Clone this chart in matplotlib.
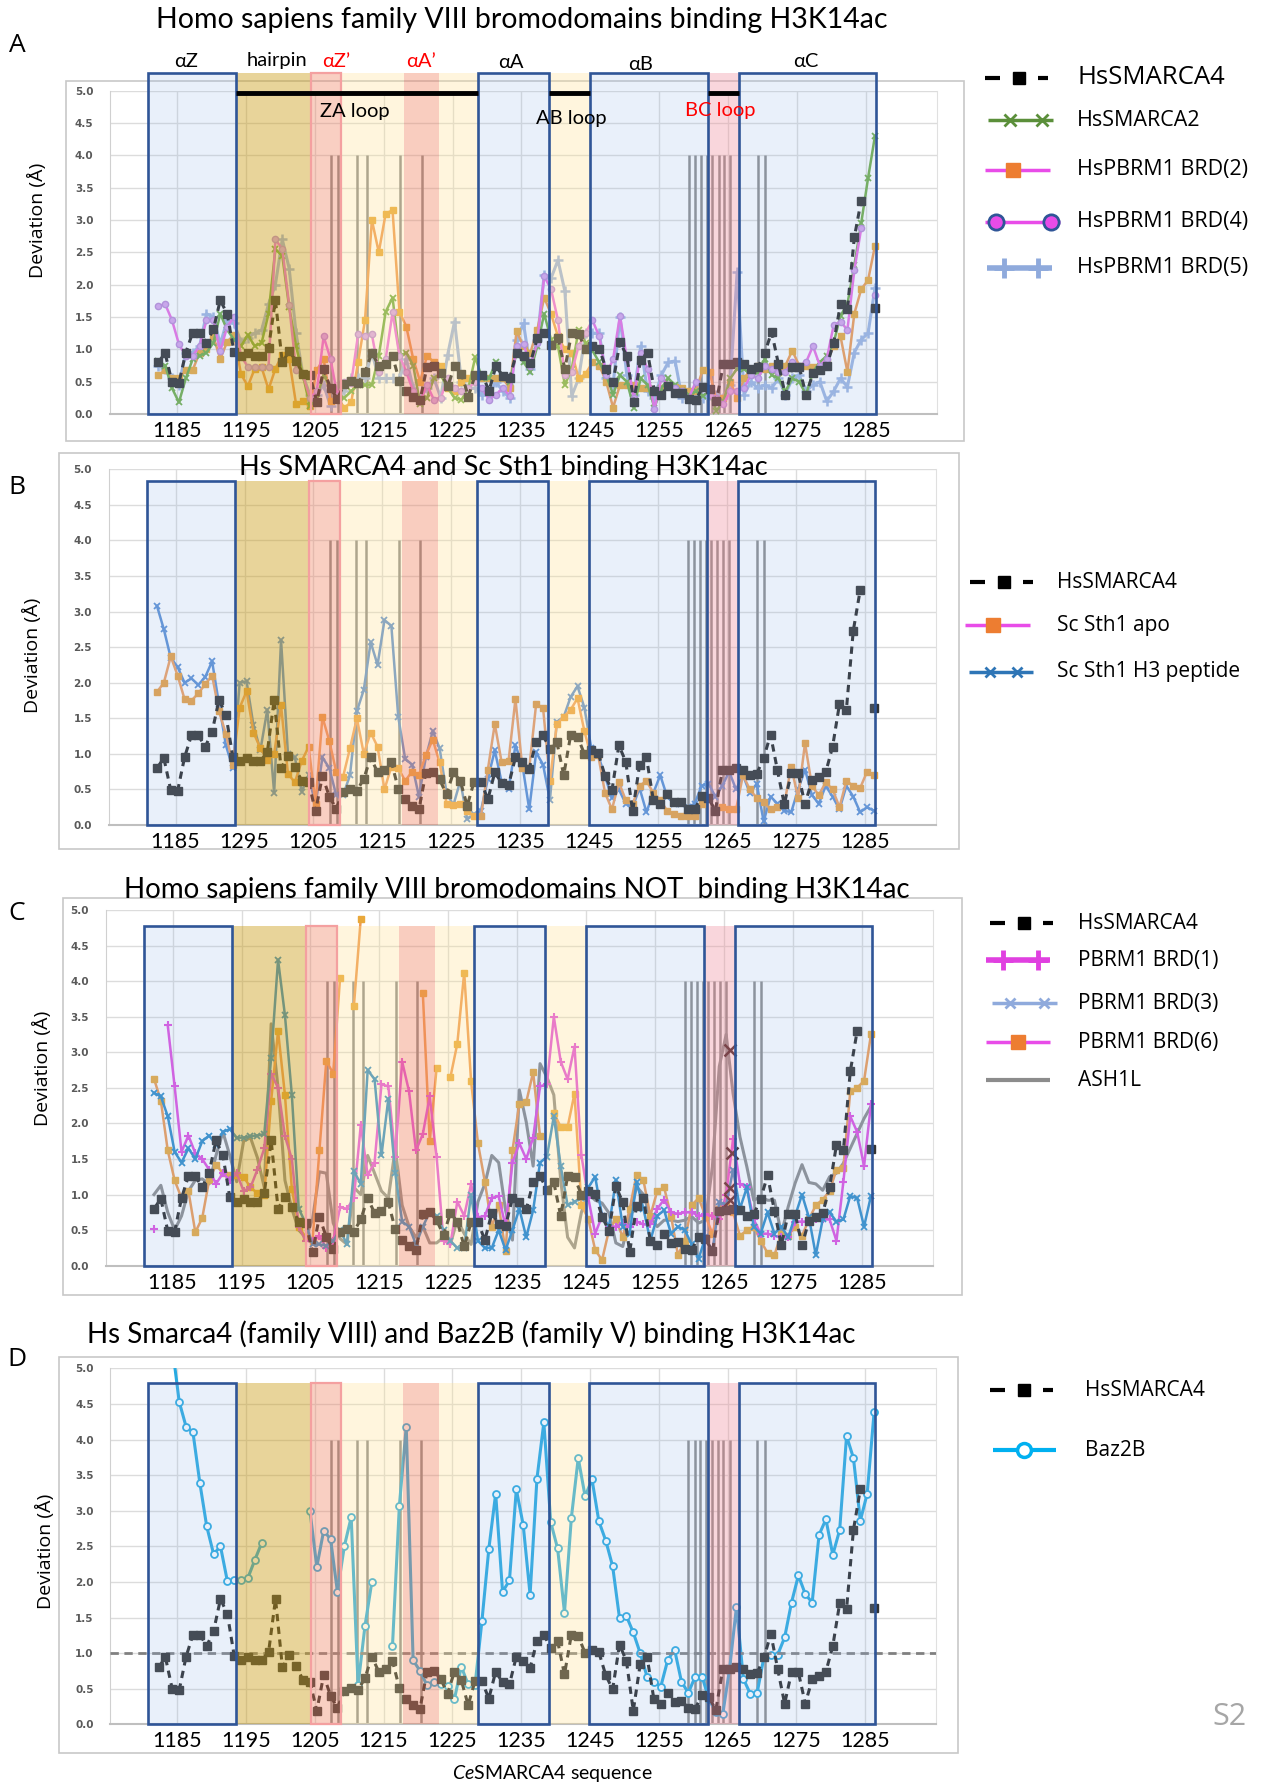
import numpy as np
import matplotlib
matplotlib.use('Agg')
import matplotlib.pyplot as plt
from matplotlib.patches import Rectangle
from matplotlib.lines import Line2D

nan = np.nan
W, H = 1266, 1785

# residue numbers (one point per residue)
residues = np.arange(1182, 1287)

hs_smarca4 = [0.80, 0.94, 0.49, 0.48, 0.95, 1.26, 1.26, 1.10, 1.31, 1.76,
              1.55, 0.96, 0.90, 0.94, 0.90, 0.90, 1.02, 1.76, 0.80, 0.97,
              0.82, 0.62, 0.60, 0.19, 0.69, 0.40, 0.23, 0.47, 0.51, 0.48,
              0.65, 0.95, 0.74, 0.77, 0.89, 0.51, 0.36, 0.27, 0.22, 0.73,
              0.75, 0.64, 0.43, 0.74, 0.62, 0.27, 0.61, 0.61, 0.36, 0.74,
              0.59, 0.56, 0.95, 0.89, 0.79, 1.17, 1.26, 1.07, 1.17, 0.70,
              1.26, 1.24, 1.00, 1.05, 1.01, 0.69, 0.49, 1.12, 0.89, 0.19,
              0.84, 0.95, 0.35, 0.29, 0.44, 0.32, 0.33, 0.23, 0.22, 0.41,
              0.38, 0.20, 0.77, 0.78, 0.80, 0.78, 0.70, 0.72, 0.94, 1.27,
              0.77, 0.29, 0.73, 0.73, 0.29, 0.63, 0.68, 0.74, 1.10, 1.70,
              1.62, 2.73, 3.30, nan, 1.64]

# panel A
hs_smarca2 = [0.82, 0.75, 0.40, 0.18, 0.55, 0.85, 0.90, 0.95, 1.10, 1.55,
              1.30, 1.15, 1.05, 1.22, 1.05, 1.10, 1.55, 2.55, 2.45, 1.65,
              1.05, 0.60, 0.12, 0.25, 0.60, 0.40, 0.25, 0.25, 0.35, 0.45,
              0.45, 0.45, 0.90, 1.58, 1.80, 0.90, 0.95, 0.75, 0.15, 0.25,
              0.55, 0.60, 0.40, 0.25, 0.22, 0.40, 0.88, 0.55, 0.55, 0.80,
              0.55, 0.50, 0.95, 0.80, 0.65, 1.05, 1.55, 1.15, 1.05, 0.45,
              0.70, 1.30, 1.10, 0.98, 0.80, 0.60, 0.30, 0.60, 0.50, 0.10,
              0.55, 0.45, 0.10, 0.40, 0.55, 0.45, 0.35, 0.30, 0.35, 0.28,
              0.35, 0.05, 0.20, 0.55, 0.70, 0.70, 0.60, 0.65, 0.85, 0.60,
              0.55, 0.35, 0.55, 0.50, 0.30, 0.65, 0.80, 0.90, 1.10, 1.52,
              1.70, 2.30, 2.95, 3.65, 4.30]
hs_pbrm1_brd2 = [0.60, 0.68, 0.55, 0.55, 0.68, 0.68, 0.95, 1.00, 1.20, 0.85,
                 1.12, 1.22, 0.62, 0.43, 0.70, 0.72, 0.38, 0.70, 0.92, 0.85,
                 0.15, 0.20, 0.12, 0.68, 0.85, 0.20, 0.25, 0.10, 0.18, 0.80,
                 1.45, 3.00, 2.50, 3.10, 3.15, 1.58, 1.35, 0.85, 0.50, 0.90,
                 0.80, 0.75, 0.40, 0.35, 0.50, 0.55, 0.60, 0.55, 0.55, 0.55,
                 0.55, 0.40, 1.28, 1.05, 0.95, 1.30, 1.80, 1.55, 1.20, 1.00,
                 0.95, 0.55, 0.62, 0.80, 0.75, 0.50, 0.10, 0.45, 0.45, 0.45,
                 0.40, 0.40, 0.35, 0.40, 0.45, 0.42, 0.40, 0.35, 0.35, 0.68,
                 0.65, 0.20, 0.25, 0.50, 0.25, 0.55, 0.70, 0.75, 0.70, 0.75,
                 0.65, 0.75, 0.98, 0.75, 0.75, 0.72, 0.75, 0.80, 1.05, 1.20,
                 0.65, 1.55, 1.93, 2.07, 2.60]
hs_pbrm1_brd4 = [1.67, 1.70, 1.45, 1.08, 0.90, 0.90, 1.05, 1.45, 1.45, 0.97,
                 1.35, 1.50, 0.90, 0.73, 0.72, 0.73, 0.72, 2.70, 2.55, 1.68,
                 0.68, 0.60, 0.25, 0.35, 1.20, 0.85, 0.28, 0.50, 0.48, 1.23,
                 1.20, 1.23, 0.65, 0.85, 1.57, 0.90, 0.65, 0.35, 0.20, 0.45,
                 0.22, 0.25, 0.55, 0.40, 0.35, 0.40, 0.50, 0.40, 0.22, 0.30,
                 0.40, 0.28, 1.05, 1.08, 0.75, 1.10, 2.13, 1.93, 1.45, 0.60,
                 0.65, 1.05, 1.25, 1.45, 1.20, 0.60, 0.85, 1.52, 0.85, 0.25,
                 0.95, 0.70, 0.07, 0.55, 0.45, 0.40, 0.35, 0.25, 0.50, 0.40,
                 0.30, 0.25, 0.15, 0.35, 0.35, 0.40, 0.60, 0.55, 0.75, 0.70,
                 0.65, 0.65, 0.80, 0.75, 0.80, 1.05, 0.75, 0.85, 1.37, 1.43,
                 1.30, 2.22, 2.87, nan, 1.84]
hs_pbrm1_brd5 = [0.75, 0.70, 0.55, 0.45, 0.95, 0.95, 1.05, 1.55, 1.50, 1.08,
                 1.45, 1.40, 1.12, 1.18, 1.25, 1.30, 1.70, 2.00, 2.70, 2.25,
                 1.25, 0.60, 0.30, 0.30, 0.45, 0.12, 0.25, 0.35, 0.55, 0.55,
                 0.55, 0.95, 0.55, 0.55, 0.55, 0.55, 0.85, 0.40, 0.25, 0.40,
                 0.55, 0.25, 0.92, 1.43, 0.50, 0.40, 0.40, 0.30, 0.30, 0.50,
                 0.35, 0.25, 1.15, 1.40, 0.70, 1.15, 2.15, 2.10, 2.38, 1.90,
                 0.28, 0.55, 1.25, 1.25, 1.25, 0.55, 0.45, 1.50, 0.60, 0.30,
                 1.05, 0.35, 0.25, 0.60, 0.80, 0.82, 0.25, 0.28, 0.32, 0.25,
                 0.30, 0.30, 0.25, 0.45, 2.20, 0.30, 0.50, 0.40, 0.45, 0.40,
                 0.55, 0.30, 0.55, 0.60, 0.35, 0.45, 0.50, 0.20, 0.35, 0.55,
                 0.42, 0.95, 1.15, 1.25, 1.95]

# panel B
sc_sth1_apo = [1.87, 2.00, 2.37, 2.10, 1.77, 1.75, 1.85, 1.98, 2.10, 1.60,
               1.28, 0.85, 1.65, 1.88, 1.30, 1.08, 0.92, 1.00, 1.68, 0.72,
               0.60, 0.90, 1.10, 0.30, 1.52, 1.18, 0.75, 0.68, 1.08, 1.50,
               1.00, 1.30, 1.10, 0.50, 0.82, 0.80, 0.62, 0.75, 0.70, 0.98,
               1.20, 0.88, 0.30, 0.28, 0.30, 0.20, 0.12, 0.12, 0.78, 1.42,
               0.88, 0.90, 1.77, 0.80, 0.80, 1.70, 1.65, 0.62, 1.42, 1.52,
               1.62, 1.78, 1.32, 0.95, 0.98, 0.45, 0.22, 0.60, 0.35, 0.30,
               0.55, 0.62, 0.45, 0.35, 0.20, 0.15, 0.13, 0.12, 0.12, 0.30,
               0.38, 0.20, 0.25, 0.22, 0.22, 0.70, 0.50, 0.38, 0.32, 0.22,
               0.25, 0.30, 0.82, 0.38, 1.15, 0.55, 0.42, 0.60, 0.50, 0.25,
               0.62, 0.55, 0.52, 0.75, 0.70]
sc_sth1_h3 = [3.08, 2.75, 2.35, 2.22, 2.00, 2.06, 1.97, 2.08, 2.30, 1.70,
              1.12, 0.80, 2.00, 2.02, 1.40, 1.05, 1.62, 0.45, 2.60, 1.00,
              0.95, 0.47, 0.70, 0.28, 0.95, 0.80, 0.42, 0.42, 0.70, 1.60,
              1.90, 2.57, 2.25, 2.88, 2.80, 1.52, 0.93, 0.85, 0.40, 0.95,
              1.32, 1.08, 0.45, 0.28, 0.62, 0.08, 0.15, 0.20, 0.65, 1.05,
              0.60, 0.50, 1.12, 0.85, 0.22, 1.02, 0.85, 0.35, 1.45, 1.52,
              1.80, 1.95, 1.65, 1.08, 0.98, 0.68, 0.38, 0.50, 0.30, 0.25,
              0.52, 0.18, 0.45, 0.70, 0.40, 0.30, 0.30, 0.25, 0.30, 0.55,
              0.58, 0.40, 0.55, 0.75, 0.50, 0.70, 0.45, 0.58, 0.05, 0.40,
              0.30, 0.20, 0.18, 0.50, 0.78, 0.42, 0.30, 0.55, 0.40, 0.22,
              0.55, 0.40, 0.18, 0.25, 0.20]

# panel C
pbrm1_brd1 = [0.52, nan, 3.38, 2.52, 1.60, 1.83, 1.58, 1.50, 1.35, 1.15,
              1.30, 1.20, 1.30, 1.05, 1.10, 1.35, 1.65, 2.70, 2.50, 1.82,
              1.50, 0.55, 0.35, 0.35, 0.42, 0.25, 0.35, 0.82, 0.80, 0.95,
              1.98, 1.27, 1.45, 2.55, 2.52, 1.53, 2.87, 2.45, 1.62, 1.85,
              2.38, 1.53, 0.35, 0.30, 0.90, 0.70, 1.15, 0.68, 0.70, 0.95,
              0.98, 0.55, 1.45, 1.72, 1.50, 1.80, 2.52, 2.55, 3.50, 2.87,
              2.62, 3.08, 1.55, 0.95, 0.45, 0.70, 0.55, 0.55, 0.60, 0.55,
              0.62, 0.58, 0.58, 0.80, 0.93, 0.75, 0.73, 0.75, 0.75, 0.70,
              0.72, 0.70, 0.65, 1.00, 1.78, 1.15, 1.10, 0.65, 0.45, 0.45,
              0.42, 0.40, 0.40, 0.62, 0.62, 0.62, 0.65, 0.65, 0.65, 0.35,
              1.18, 2.10, 1.88, 1.40, 2.27]
pbrm1_brd3 = [2.43, 2.38, 2.10, 1.60, 1.45, 1.65, 1.50, 1.75, 1.83, 1.70,
              1.88, 1.92, 1.80, 1.80, 1.82, 1.83, 1.85, 2.92, 4.30, 3.52,
              2.40, 0.80, 0.60, 0.30, 0.30, 0.28, 0.35, 0.50, 0.30, 1.33,
              1.15, 2.75, 2.62, 1.55, 2.35, 1.30, 0.62, 0.55, 0.30, 0.55,
              0.75, 0.70, 0.50, 0.35, 0.25, 0.25, 1.00, 0.35, 0.25, 0.25,
              0.50, 0.22, 0.50, 0.80, 0.40, 0.78, 1.45, 1.53, 2.10, 1.40,
              0.85, 0.90, 0.95, 1.10, 1.25, 0.70, 0.55, 1.20, 0.55, 0.45,
              1.18, 0.80, 0.35, 0.70, 0.78, 0.45, 0.55, 0.50, 0.30, 0.10,
              0.40, 0.20, 0.90, 0.85, 1.35, 0.80, 1.10, 0.55, 0.45, 0.75,
              0.45, 0.55, 0.40, 0.70, 1.00, 0.68, 0.15, 0.65, 0.75, 0.62,
              0.65, 0.98, 0.95, 0.55, 0.98]
pbrm1_brd6 = [2.63, 2.32, 1.62, 1.20, 0.95, 1.05, 0.47, 0.67, 1.20, 1.42,
              1.30, 1.28, 1.28, 1.25, 1.10, 1.02, 1.00, 2.32, 3.30, 2.40,
              1.08, 0.55, 0.40, 0.35, 1.62, 2.88, 2.70, 4.05, nan, 3.65,
              4.88, nan, nan, nan, nan, nan, nan, nan, nan, 3.83,
              1.75, 2.78, nan, 2.65, 3.12, 4.12, 2.59, 1.72, 1.18, 0.55,
              0.85, 0.20, 1.62, 2.28, 2.30, 2.72, 1.82, nan, 2.15, 1.95,
              1.95, 2.42, 0.85, 0.66, 0.22, 0.08, 0.50, 0.65, 0.40, 0.80,
              1.28, 1.20, 0.70, 1.05, 1.10, 0.70, 0.15, 0.35, 0.85, 0.95,
              0.70, 0.45, 0.80, 0.85, 0.75, 0.42, 0.50, 0.55, 0.35, 0.18,
              0.15, 0.45, 0.42, 0.55, 0.42, 0.65, 0.85, 0.93, 1.05, 1.35,
              1.38, 2.45, 2.50, 2.60, 3.25]
ash1l = [1.00, 1.13, 0.75, 0.50, 0.70, 1.05, 1.20, 1.22, 1.15, 1.55,
         1.88, 1.55, 1.18, 1.75, 1.80, 1.52, 1.10, 3.40, 2.50, 1.20,
         0.80, 0.50, 0.40, 0.65, 1.32, 1.30, 0.60, 0.38, 0.30, 1.10,
         1.00, 1.55, 1.30, 1.05, 0.95, 1.65, 0.85, 0.55, 0.40, 0.55,
         0.32, 0.32, 0.40, 0.30, 0.65, 0.45, 0.30, 0.90, 1.15, 1.55,
         1.45, 0.78, 0.36, 2.47, 2.02, 1.40, 2.84, 2.65, 2.40, 1.20,
         0.40, 0.25, 0.75, 1.02, 0.92, 0.88, 0.74, 0.32, 0.27, 0.70,
         1.11, 1.00, 0.69, 0.55, 0.64, 0.64, 0.62, 0.64, 0.69, 0.60,
         0.64, 1.39, 2.80, 3.25, 2.42, 1.81, 1.39, 0.92, 0.97, 0.92,
         0.92, 0.45, 0.83, 1.16, 1.42, 1.17, 1.15, 1.06, 1.25, 1.30,
         1.44, 1.65, 1.86, 2.07, 2.24]
# the dark x marks in the BC loop of panel C
c_x_res = [1265.5, 1265.8, 1265.6, 1265.5]
c_x_val = [3.03, 1.58, 1.09, 0.92]

# panel D
baz2b = [nan, nan, 5.30, 4.53, 4.18, 4.10, 3.39, 2.78, 2.39, 2.50,
         2.01, 2.02, 2.02, 2.06, 2.31, 2.55, nan, nan, nan, nan,
         nan, nan, 3.00, 2.21, 2.72, 2.60, 1.86, 2.50, 2.91, 0.55,
         1.38, 2.00, nan, nan, 1.10, 3.07, 4.18, 0.90, 0.75, 0.55,
         0.60, 0.57, 0.54, 0.35, 0.81, 0.56, 0.55, 1.45, 2.46, 3.24,
         1.86, 2.02, 3.30, 2.80, 1.82, 3.45, 4.24, 2.84, 2.47, 1.57,
         2.90, 3.74, 3.20, 3.44, 2.85, 2.58, 2.22, 1.49, 1.52, 1.29,
         1.00, 0.67, 0.60, 0.53, 0.90, 1.05, 0.60, 0.44, 0.67, 0.67,
         0.35, 0.17, 0.14, 0.78, 1.65, 0.64, 0.43, 0.44, 0.95, 0.97,
         0.98, 1.22, 1.71, 2.09, 1.83, 1.71, 2.66, 2.88, 2.38, 2.73,
         4.05, 3.74, 2.86, 3.24, 4.38]
threshold = 1.0

# secondary-structure regions (residue boundaries)
region_edges = [1180.5, 1193.3, 1204.1, 1208.5, 1217.6, 1222.7,
                1228.4, 1238.7, 1244.6, 1261.8, 1266.3, 1286.1]
region_kinds = ['helix', 'hairpin', 'zprime', 'loop', 'aprime', 'loop',
                'helix', 'loop', 'helix', 'bc', 'helix']
vline_res = [1207.1, 1208.1, 1210.9, 1212.3, 1217.1, 1220.2,
             1259.0, 1259.9, 1260.7, 1261.6, 1262.4, 1263.3, 1264.1, 1265.0,
             1269.0, 1270.1]

tick_labels = ['1185', '1195', '1205', '1215', '1225', '1235',
               '1245', '1255', '1265', '1275', '1285']
tick_labels_b = ['1185', '1295', '1205', '1215', '1225', '1235',
                 '1245', '1255', '1265', '1275', '1285']
tick_pos = np.arange(1185, 1286, 10) - 0.3

fill_style = {
    'helix': ('#91b4e6', 0.2),
    'hairpin': ('#cca01f', 0.45),
    'loop': ('#ffe191', 0.3),
    'zprime': ('#f08261', 0.38),
    'aprime': ('#f08261', 0.4),
    'bc': ('#f08c9b', 0.35),
}

plt.rcParams['font.family'] = ['Lato', 'DejaVu Sans']
plt.rcParams['mathtext.fontset'] = 'custom'
plt.rcParams['mathtext.it'] = 'Lato:italic'
plt.rcParams['mathtext.rm'] = 'Lato'
LEG_FONT = ['Open Sans', 'DejaVu Sans']

fig = plt.figure(figsize=(W / 100, H / 100), dpi=100)


def fxy(x, y):
    return x / W, 1 - y / H


def make_axes(left, top, right, bottom):
    return fig.add_axes([left / W, 1 - bottom / H, (right - left) / W, (bottom - top) / H])


def border(l, t, r, b):
    x0, y1 = fxy(l, t)
    x1, y0 = fxy(r, b)
    fig.add_artist(Rectangle((x0, y0), x1 - x0, y1 - y0, transform=fig.transFigure,
                             fill=False, edgecolor='#c8c8c8', lw=1.2, zorder=-1))


def setup(ax, labels):
    ax.set_xlim(1175, 1295)
    ax.set_ylim(0, 5)
    yt = np.arange(0, 5.01, 0.5)
    ax.set_yticks(yt)
    ax.set_yticklabels([f'{v:.1f}' for v in yt], fontsize=7.5, fontweight='bold',
                       color='#595959', family=['DejaVu Sans'])
    ax.set_xticks(tick_pos)
    ax.set_xticklabels(labels, fontsize=15.5)
    ax.tick_params(axis='y', length=0, pad=12)
    ax.tick_params(axis='x', length=0, pad=5)
    ax.grid(color='#dcdcdc', lw=1)
    ax.set_axisbelow(True)
    ax.spines['top'].set_visible(False)
    ax.spines['right'].set_color('#e0e0e0')
    ax.spines['left'].set_color('#d0d0d0')
    ax.spines['bottom'].set_color('#bfbfbf')
    ax.spines['bottom'].set_linewidth(1.5)
    ax.set_facecolor('none')


def draw_regions(ax, top):
    for i, kind in enumerate(region_kinds):
        x0, x1 = region_edges[i], region_edges[i + 1]
        col, al = fill_style[kind]
        ax.add_patch(Rectangle((x0, 0), x1 - x0, top, facecolor=col, alpha=al,
                               lw=0, zorder=4, clip_on=False))
        if kind == 'helix':
            ax.add_patch(Rectangle((x0, 0), x1 - x0, top, fill=False,
                                   edgecolor='#2f5597', lw=1.9, zorder=6, clip_on=False))
        if kind == 'zprime':
            ax.add_patch(Rectangle((x0, 0), x1 - x0, top, fill=False,
                                   edgecolor='#f4a0a0', lw=1.6, zorder=5, clip_on=False))
    ax.vlines(vline_res, 0, 4.0, color='#8c8c8c', lw=1.8, zorder=1.5)


def plot_smarca4(ax):
    ax.plot(residues, hs_smarca4, color='#262626', lw=2.2, ls=(0, (2.4, 1.8)),
            marker='s', ms=5.5, mfc='#333333', mec='#333333', zorder=3.5)


def legend_entry(y, x0, x1, tx, text, fs, segs=None, marks=(), **kw):
    line_kw = {k: v for k, v in kw.items() if not k.startswith('m')}
    mark_kw = {k: v for k, v in kw.items() if k.startswith('m')}
    if segs is None:
        segs = [(x0, x1)]
    for a, b in segs:
        fig.add_artist(Line2D([a / W, b / W], [1 - y / H] * 2, transform=fig.transFigure,
                              solid_capstyle='butt', **line_kw))
    if marks:
        fig.add_artist(Line2D([m / W for m in marks], [1 - y / H] * len(marks),
                              transform=fig.transFigure, ls='none', **mark_kw))
    fig.text(tx / W, 1 - y / H, text, fontsize=fs, va='center', ha='left', family=LEG_FONT)


def smarca4_legend(y, x0, tx, fs):
    legend_entry(y, x0, x0 + 65, tx, 'HsSMARCA4', fs,
                 segs=[(x0, x0 + 15), (x0 + 53, x0 + 63)], marks=[x0 + 34],
                 color='black', lw=3, marker='s', ms=9, mfc='black', mec='black')


# ---------------- panel A ----------------
border(66, 81, 964, 441)
axA = make_axes(110, 90.7, 937, 414)
setup(axA, tick_labels)
draw_regions(axA, 5.27)
axA.plot(residues, hs_pbrm1_brd5, color='#9db4e0', lw=2.2, marker='+', ms=7, mew=1.8, zorder=3)
axA.plot(residues, hs_pbrm1_brd2, color='#ef9b52', lw=1.8, marker='s', ms=4.5,
         mfc='#e9a83a', mec='#e9a83a', zorder=3)
axA.plot(residues, hs_smarca2, color='#70ad47', lw=1.8, marker='x', ms=5, mew=1.3, zorder=3)
axA.plot(residues, hs_pbrm1_brd4, color='#ea6fe4', lw=1.8, marker='o', ms=4.5,
         mfc='#d6a4ec', mec='#b98bd8', zorder=3)
plot_smarca4(axA)
# loop bar along the top
bar_x = [region_edges[1], region_edges[6], region_edges[7], region_edges[8],
         region_edges[9], region_edges[10]]
for a, b in zip(bar_x[::2], bar_x[1::2]):
    axA.plot([a, b], [4.97, 4.97], color='black', lw=3.5, zorder=7, clip_on=False,
             solid_capstyle='butt')
for x, y, s, c in [(1186, 5.45, 'αZ', 'black'), (1199.2, 5.47, 'hairpin', 'black'),
                   (1207.8, 5.45, 'αZ’', 'red'), (1220.1, 5.45, 'αA’', 'red'),
                   (1233.1, 5.43, 'αA', 'black'), (1252, 5.40, 'αB', 'black'),
                   (1276, 5.45, 'αC', 'black'), (1210.5, 4.68, 'ZA loop', 'black'),
                   (1242, 4.57, 'AB loop', 'black'), (1263.5, 4.70, 'BC loop', 'red')]:
    axA.text(x, y, s, color=c, fontsize=14.5, ha='center', va='center', zorder=8,
             clip_on=False)
fig.text(*fxy(522, 20), 'Homo sapiens family VIII bromodomains binding H3K14ac',
         fontsize=20.5, ha='center', va='center')
fig.text(*fxy(17, 46), 'A', fontsize=19, ha='center', va='center', family=LEG_FONT)
fig.text(*fxy(37, 220), 'Deviation (Å)', fontsize=14, rotation=90, ha='center',
         va='center', family=LEG_FONT)

smarca4_legend(78, 985, 1077, 18.5)
legend_entry(120, 988, 1053, 1077, 'HsSMARCA2', 15.5, marks=[1010, 1042],
             color='#5b8f3a', lw=2.5, marker='x', ms=9, mew=2, mec='#5b8f3a')
legend_entry(170, 985, 1050, 1077, 'HsPBRM1 BRD(2)', 15.5, marks=[1013],
             color='#e84ce8', lw=2.5, marker='s', ms=10, mfc='#ed7d31', mec='#ed7d31')
legend_entry(222, 985, 1060, 1077, 'HsPBRM1 BRD(4)', 15.5, marks=[996, 1051],
             color='#e84ce8', lw=2.5, marker='o', ms=11, mfc='#e84ce8', mec='#2f5597', mew=2)
legend_entry(268, 987, 1052, 1077, 'HsPBRM1 BRD(5)', 15.5, marks=[1004, 1038],
             color='#8faadc', lw=4, marker='+', ms=15, mew=3.5, mec='#8faadc')

# ---------------- panel B ----------------
border(59, 453, 959, 849)
axB = make_axes(108.7, 469.3, 936, 825)
setup(axB, tick_labels_b)
draw_regions(axB, 4.83)
axB.plot(residues, sc_sth1_h3, color='#5b8fd4', lw=1.8, marker='x', ms=5, mew=1.3, zorder=3)
axB.plot(residues, sc_sth1_apo, color='#f0a060', lw=1.8, marker='s', ms=4.5,
         mfc='#e9a040', mec='#e9a040', zorder=3)
plot_smarca4(axB)
fig.text(*fxy(503, 467), 'Hs SMARCA4 and Sc Sth1 binding H3K14ac', fontsize=19.5,
         ha='center', va='center')
fig.text(*fxy(17, 487), 'B', fontsize=19, ha='center', va='center', family=LEG_FONT)
fig.text(*fxy(32, 655), 'Deviation (Å)', fontsize=14, rotation=90, ha='center',
         va='center', family=LEG_FONT)

smarca4_legend(582, 970, 1057, 15)
legend_entry(625, 965, 1030, 1057, 'Sc Sth1 apo', 15, marks=[993],
             color='#e84ce8', lw=2.5, marker='s', ms=10, mfc='#ed7d31', mec='#ed7d31')
legend_entry(672, 969, 1033, 1057, 'Sc Sth1 H3 peptide', 15, marks=[990, 1017],
             color='#2e75b6', lw=2.5, marker='x', ms=7, mew=2, mec='#2e75b6')

# ---------------- panel C ----------------
border(63, 898, 962, 1295)
axC = make_axes(105.7, 910, 933, 1265.7)
setup(axC, tick_labels)
draw_regions(axC, 4.78)
axC.plot(residues, ash1l, color='#8c8c8c', lw=2.2, zorder=3)
axC.plot(residues, pbrm1_brd6, color='#ef9b52', lw=1.8, marker='s', ms=4.5,
         mfc='#e9a83a', mec='#e9a83a', zorder=3)
axC.plot(residues, pbrm1_brd1, color='#e050e0', lw=1.8, marker='+', ms=6, mew=1.5, zorder=3)
axC.plot(residues, pbrm1_brd3, color='#2e8bc9', lw=1.8, marker='x', ms=5, mew=1.3, zorder=3)
axC.plot(c_x_res, c_x_val, ls='none', marker='x', ms=9, mew=1.8, color='#3a1f1f', zorder=3.6)
plot_smarca4(axC)
fig.text(*fxy(517, 890), 'Homo sapiens family VIII bromodomains NOT  binding H3K14ac',
         fontsize=20, ha='center', va='center')
fig.text(*fxy(17, 914), 'C', fontsize=19, ha='center', va='center', family=LEG_FONT)
fig.text(*fxy(42, 1068), 'Deviation (Å)', fontsize=14, rotation=90, ha='center',
         va='center', family=LEG_FONT)

smarca4_legend(923, 990, 1078, 15)
legend_entry(960, 986, 1050, 1078, 'PBRM1 BRD(1)', 15, marks=[1003, 1038],
             color='#e040e0', lw=4, marker='+', ms=15, mew=3.5, mec='#e040e0')
legend_entry(1003, 992, 1057, 1078, 'PBRM1 BRD(3)', 15, marks=[1010, 1044],
             color='#8faadc', lw=2.5, marker='x', ms=7, mew=2, mec='#8faadc')
legend_entry(1042, 986, 1050, 1078, 'PBRM1 BRD(6)', 15, marks=[1018],
             color='#e84ce8', lw=2.5, marker='s', ms=10, mfc='#ed7d31', mec='#ed7d31')
legend_entry(1080, 986, 1050, 1078, 'ASH1L', 15, color='#8c8c8c', lw=3)

# ---------------- panel D ----------------
border(59, 1357, 958, 1753)
axD = make_axes(110.4, 1368.3, 936, 1724.3)
setup(axD, tick_labels)
draw_regions(axD, 4.8)
axD.axhline(threshold, color='#808080', ls=(0, (3, 2)), lw=2, zorder=3.2)
axD.plot(residues, baz2b, color='#27aae1', lw=2.2, marker='o', ms=5, mfc='white',
         mec='#27aae1', mew=1.3, zorder=3)
plot_smarca4(axD)
fig.text(*fxy(471, 1334), 'Hs Smarca4 (family VIII) and Baz2B (family V) binding H3K14ac',
         fontsize=20, ha='center', va='center')
fig.text(*fxy(17, 1360), 'D', fontsize=19, ha='center', va='center', family=LEG_FONT)
fig.text(*fxy(45, 1551), 'Deviation (Å)', fontsize=14, rotation=90, ha='center',
         va='center', family=LEG_FONT)
fig.text(*fxy(552, 1773), r'$\it{Ce}$SMARCA4 sequence', fontsize=14, ha='center',
         va='center')

smarca4_legend(1390, 990, 1085, 15)
legend_entry(1450, 993, 1056, 1085, 'Baz2B', 15, marks=[1024],
             color='#00b0f0', lw=3, marker='o', ms=10, mfc='white', mec='#00b0f0', mew=2.5)

fig.text(*fxy(1230, 1717), 'S2', fontsize=22, color='#a6a6a6', ha='center', va='center',
         family=LEG_FONT)

fig.savefig('out.png', dpi=100)
